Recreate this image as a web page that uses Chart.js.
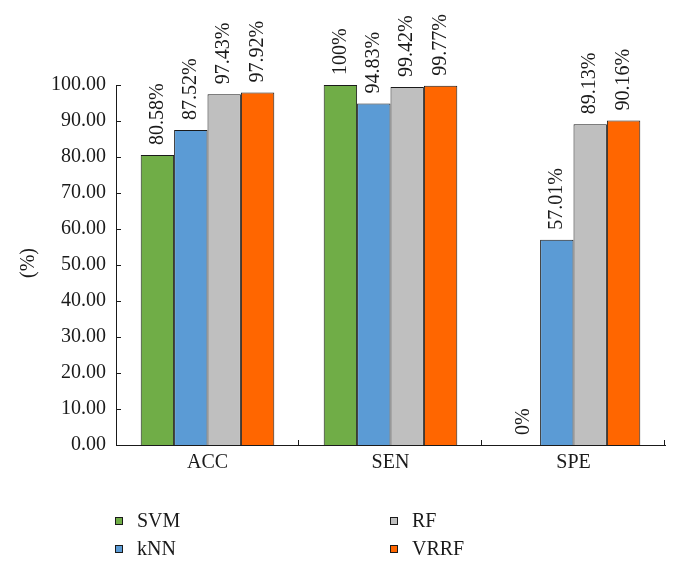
<!DOCTYPE html>
<html>
<head>
<meta charset="utf-8">
<script src="https://cdn.jsdelivr.net/npm/chart.js@4"></script>
<style>
  html, body { margin: 0; padding: 0; background: #fff; }
  #wrap { width: 680px; height: 567px; }
</style>
</head>
<body>
<div id="wrap"><canvas id="myChart" width="680" height="567"></canvas></div>
<script>
// chart data
var categories = ["ACC", "SEN", "SPE"];
var svm  = [80.58, 100, 0];
var knn  = [87.52, 94.83, 57.01];
var rf   = [97.43, 99.42, 89.13];
var vrrf = [97.92, 99.77, 90.16];
var seriesNames = ["SVM", "kNN", "RF", "VRRF"];
var yTicks = [0, 10, 20, 30, 40, 50, 60, 70, 80, 90, 100];

var colors = ['#70AD47', '#5B9BD5', '#BFBFBF', '#FF6600'];
var FONT = '"Liberation Serif", "DejaVu Serif", serif';
var INK = '#1a1a1a';

function makeSet(i, values) {
    return {
        label: seriesNames[i],
        data: values,
        backgroundColor: colors[i],
        borderColor: INK,
        borderWidth: 1,
        categoryPercentage: 0.73,
        barPercentage: 1.0
    };
}

// value labels rotated above each bar
var valueLabels = {
    id: 'valueLabels',
    afterDatasetsDraw: function (chart) {
        var ctx = chart.ctx;
        ctx.save();
        ctx.fillStyle = INK;
        ctx.font = '20px ' + FONT;
        ctx.textAlign = 'left';
        ctx.textBaseline = 'middle';
        chart.data.datasets.forEach(function (ds, i) {
            var meta = chart.getDatasetMeta(i);
            meta.data.forEach(function (bar, j) {
                ctx.save();
                ctx.translate(bar.x, bar.y - 10);
                ctx.rotate(-Math.PI / 2);
                ctx.fillText(ds.data[j] + '%', 0, 0);
                ctx.restore();
            });
        });
        ctx.restore();
    }
};

// inward tick marks, y title and legend
var extras = {
    id: 'extras',
    afterDraw: function (chart) {
        var ctx = chart.ctx;
        var xs = chart.scales.x, ys = chart.scales.y;
        ctx.save();
        ctx.strokeStyle = INK;
        ctx.lineWidth = 1;
        ctx.beginPath();
        yTicks.forEach(function (v) {
            var py = Math.round(ys.getPixelForValue(v)) + 0.5;
            ctx.moveTo(xs.left, py);
            ctx.lineTo(xs.left + 5, py);
        });
        var step = (xs.right - xs.left) / categories.length;
        for (var i = 1; i <= categories.length; i++) {
            var px = Math.round(xs.left + i * step) - 0.5;
            ctx.moveTo(px, ys.bottom);
            ctx.lineTo(px, ys.bottom - 5);
        }
        ctx.stroke();

        ctx.fillStyle = INK;
        ctx.font = '20px ' + FONT;
        ctx.textAlign = 'center';
        ctx.textBaseline = 'middle';
        ctx.save();
        ctx.translate(29, 263);
        ctx.rotate(-Math.PI / 2);
        ctx.fillText('(%)', 0, 0);
        ctx.restore();

        var pos = [[115, 521], [115, 549], [390, 521], [390, 549]];
        ctx.textAlign = 'left';
        seriesNames.forEach(function (name, k) {
            var p = pos[k];
            ctx.fillStyle = colors[k];
            ctx.fillRect(p[0], p[1] - 4, 8, 8);
            ctx.strokeStyle = INK;
            ctx.strokeRect(p[0] + 0.5, p[1] - 3.5, 7, 7);
            ctx.fillStyle = INK;
            ctx.fillText(name, p[0] + 22, p[1] + 1);
        });
        ctx.restore();
    }
};

var ctx = document.getElementById("myChart").getContext("2d");

var myBarChart = new Chart(ctx, {
    type: 'bar',
    data: {
        labels: categories,
        datasets: [makeSet(0, svm), makeSet(1, knn), makeSet(2, rf), makeSet(3, vrrf)]
    },
    options: {
        responsive: false,
        animation: false,
        layout: { padding: { left: 0, right: 15, top: 85, bottom: 92 } },
        plugins: {
            legend: { display: false },
            tooltip: { enabled: false }
        },
        scales: {
            x: {
                offset: true,
                grid: { display: false, drawTicks: false },
                border: { color: INK, width: 1 },
                ticks: { color: INK, font: { family: FONT, size: 20 }, padding: 6 },
                afterFit: function (scale) { scale.height = 30; }
            },
            y: {
                min: 0,
                max: 100,
                afterBuildTicks: function (scale) {
                    scale.ticks = yTicks.map(function (v) { return { value: v }; });
                },
                grid: { display: false, drawTicks: false },
                border: { color: INK, width: 1 },
                ticks: {
                    color: INK,
                    font: { family: FONT, size: 20 },
                    padding: 10,
                    callback: function (v) { return Number(v).toFixed(2); }
                },
                afterFit: function (scale) { scale.width = 116; }
            }
        }
    },
    plugins: [valueLabels, extras]
});
</script>
</body>
</html>
